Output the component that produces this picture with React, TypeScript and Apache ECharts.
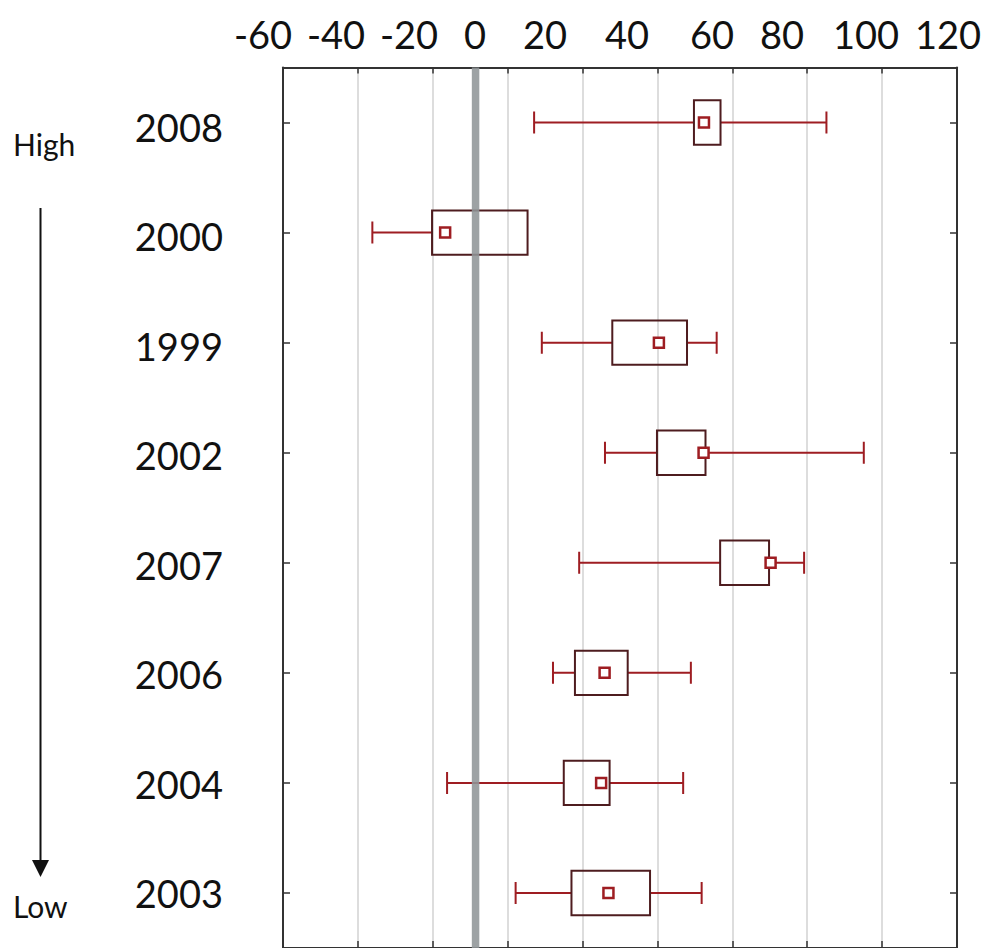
import React, { useEffect, useRef } from "react";
import * as echarts from "echarts";

// ---- data ----
const categories = ["2008", "2000", "1999", "2002", "2007", "2006", "2004", "2003"];
const lowValues = [15.2, -26.8, 17.2, 33.6, 26.9, 20.1, -7.4, 10.4];
const q1Values = [56.7, -11.3, 35.5, 47.1, 63.5, 25.8, 22.9, 24.9];
const q3Values = [63.6, 13.5, 54.9, 59.7, 76.2, 39.5, 34.8, 45.3];
const highValues = [91.1, 13.5, 62.6, 100.8, 85.3, 55.9, 53.9, 58.7];
const meanValues = [59.3, -7.9, 47.6, 59.2, 76.6, 33.5, 32.6, 34.5];
const tickLabels = ["-60", "-40", "-20", "0", "20", "40", "60", "80", "100", "120"];
const xMin = -50;
const xMax = 125;
const referenceValue = 0;

// ---- layout (positions of the hand-placed top labels) ----
const tickLabelCenters = [263, 336, 409, 475, 545, 627, 712, 782, 866, 948];

const FONT = "Lato, 'Noto Sans', sans-serif";
const WHISKER = "#9e1d22";
const BOX = "#4e1c1f";

export default function App() {
  const ref = useRef<HTMLDivElement>(null);

  useEffect(() => {
    if (!ref.current) return;
    const chart = echarts.init(ref.current, null, { renderer: "svg" });

    const boxData = categories.map((c, i) => [
      i,
      lowValues[i],
      q1Values[i],
      q3Values[i],
      highValues[i],
      meanValues[i],
    ]);

    const renderBox = (params: any, api: any) => {
      const idx = api.value(0);
      const lo = api.value(1);
      const q1 = api.value(2);
      const q3 = api.value(3);
      const hi = api.value(4);
      const mean = api.value(5);
      const xLo = api.coord([lo, idx])[0];
      const xQ1 = api.coord([q1, idx])[0];
      const xQ3 = api.coord([q3, idx])[0];
      const xHi = api.coord([hi, idx])[0];
      const xMean = api.coord([mean, idx])[0];
      const yc = api.coord([q1, idx])[1];
      const band = api.size([0, 1])[1];
      const boxH = band * 0.403;
      const capH = band * 0.2;
      const children: any[] = [];
      if (lo < q1) {
        children.push({
          type: "polyline",
          shape: { points: [[xLo, yc - capH / 2], [xLo, yc + capH / 2], [xLo, yc], [xQ1, yc]] },
          style: { stroke: WHISKER, lineWidth: 2, fill: null },
        });
      }
      if (hi > q3) {
        children.push({
          type: "polyline",
          shape: { points: [[xQ3, yc], [xHi, yc], [xHi, yc - capH / 2], [xHi, yc + capH / 2]] },
          style: { stroke: WHISKER, lineWidth: 2, fill: null },
        });
      }
      children.push({
        type: "rect",
        shape: { x: xQ1, y: yc - boxH / 2, width: xQ3 - xQ1, height: boxH },
        style: { fill: null, stroke: BOX, lineWidth: 2 },
      });
      const s = 10;
      children.push({
        type: "rect",
        shape: { x: xMean - s / 2, y: yc - s / 2, width: s, height: s },
        style: { fill: "#ffffff", stroke: WHISKER, lineWidth: 2.5 },
      });
      return { type: "group", children };
    };

    const renderZero = (params: any, api: any) => {
      const x = api.coord([api.value(0), 0])[0];
      const cs = params.coordSys;
      return {
        type: "line",
        shape: { x1: x, y1: cs.y, x2: x, y2: cs.y + cs.height },
        style: { stroke: "#8f9597", lineWidth: 7.5, opacity: 0.88 },
      };
    };

    const axisLineStyle = { color: "#333333", width: 2 };
    const plotGrid = { left: 283, top: 67.5, width: 674, height: 883.2 };

    chart.setOption({
      animation: false,
      backgroundColor: "#ffffff",
      grid: [
        { ...plotGrid },
        { left: 283, top: 72, width: 674, height: 902.4 },
        { ...plotGrid },
      ],
      xAxis: [
        { type: "value", gridIndex: 0, min: xMin, max: xMax, show: false, position: "bottom" },
        {
          type: "value",
          gridIndex: 0,
          min: 0,
          max: 9,
          interval: 1,
          position: "top",
          axisLine: { show: true, onZero: false, lineStyle: { ...axisLineStyle } },
          axisTick: { show: true, inside: true, length: 6, lineStyle: { color: "#333333", width: 1.5 } },
          axisLabel: { show: false },
          splitLine: { show: true, lineStyle: { color: "#dddddd", width: 2 } },
        },
        {
          type: "value",
          gridIndex: 0,
          min: 0,
          max: 9,
          interval: 1,
          position: "bottom",
          axisLine: { show: true, onZero: false, lineStyle: { ...axisLineStyle } },
          axisTick: { show: true, inside: true, length: 7, lineStyle: { color: "#333333", width: 1.5 } },
          axisLabel: { show: false },
          splitLine: { show: false },
        },
        { type: "value", gridIndex: 1, show: false },
        { type: "value", gridIndex: 2, show: false },
      ],
      yAxis: [
        {
          type: "category",
          gridIndex: 0,
          data: categories,
          inverse: true,
          position: "left",
          axisLine: { show: true, onZero: false, lineStyle: { ...axisLineStyle } },
          axisTick: { show: true, inside: true, alignWithLabel: true, length: 7, lineStyle: { color: "#333333", width: 1.5 } },
          axisLabel: { show: false },
          splitLine: { show: false },
        },
        {
          type: "category",
          gridIndex: 1,
          data: categories,
          inverse: true,
          axisLine: { show: false, onZero: false },
          axisTick: { show: false },
          splitLine: { show: false },
          axisLabel: { show: true, fontSize: 38, fontFamily: FONT, color: "#111111", margin: 60 },
        },
        {
          type: "category",
          gridIndex: 2,
          data: categories,
          inverse: true,
          position: "right",
          axisLine: { show: true, onZero: false, lineStyle: { ...axisLineStyle } },
          axisTick: { show: true, inside: true, alignWithLabel: true, length: 7, lineStyle: { color: "#333333", width: 1.5 } },
          axisLabel: { show: false },
          splitLine: { show: false },
        },
      ],
      series: [
        {
          type: "custom",
          xAxisIndex: 0,
          yAxisIndex: 0,
          z: 3,
          renderItem: renderBox,
          encode: { x: [1, 2, 3, 4, 5], y: 0 },
          data: boxData,
        },
        {
          type: "custom",
          xAxisIndex: 0,
          yAxisIndex: 0,
          z: 4,
          silent: true,
          renderItem: renderZero,
          encode: { x: 0, y: 1 },
          data: [[referenceValue, 0]],
        },
      ],
      graphic: [
        ...tickLabels.map((t, i) => ({
          type: "text",
          x: tickLabelCenters[i],
          y: 34,
          style: {
            text: t,
            fontSize: 38,
            fontFamily: FONT,
            fill: "#111111",
            align: "center",
            verticalAlign: "middle",
          },
        })),
        {
          type: "text",
          x: 13,
          y: 144,
          style: { text: "High", fontSize: 30, fontFamily: FONT, fill: "#111111", align: "left", verticalAlign: "middle" },
        },
        {
          type: "text",
          x: 13,
          y: 906,
          style: { text: "Low", fontSize: 30, fontFamily: FONT, fill: "#111111", align: "left", verticalAlign: "middle" },
        },
        {
          type: "line",
          shape: { x1: 40.5, y1: 208, x2: 40.5, y2: 862 },
          style: { stroke: "#111111", lineWidth: 2 },
        },
        {
          type: "polygon",
          shape: { points: [[32, 860], [49, 860], [40.5, 877]] },
          style: { fill: "#111111" },
        },
      ],
    });

    return () => chart.dispose();
  }, []);

  return (
    <div
      ref={ref}
      style={{ position: "fixed", left: 0, top: 0, width: 984, height: 948, background: "#fff" }}
    />
  );
}
